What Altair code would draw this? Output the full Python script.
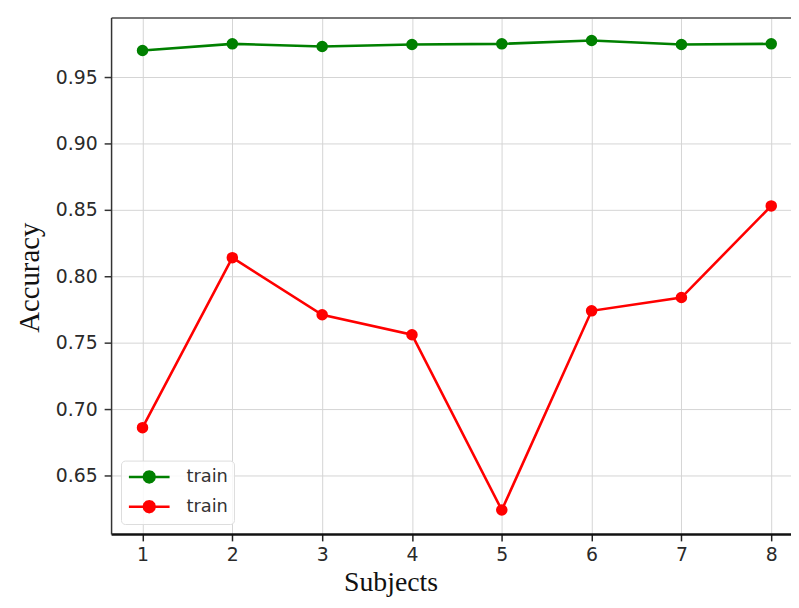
import altair as alt
import pandas as pd

subjects = [1, 2, 3, 4, 5, 6, 7, 8]
train_green = [0.970, 0.975, 0.973, 0.9745, 0.975, 0.9775, 0.9745, 0.975]
train_red = [0.686, 0.814, 0.771, 0.756, 0.624, 0.774, 0.784, 0.853]
series_keys = ["g", "r"]
series_labels = ["train", "train"]
series_colors = ["#008000", "#ff0000"]
y_ticks = [0.65, 0.70, 0.75, 0.80, 0.85, 0.90, 0.95]

rows = []
for s, a in zip(subjects, train_green):
    rows.append({"subject": s, "acc": a, "series": "g"})
for s, a in zip(subjects, train_red):
    rows.append({"subject": s, "acc": a, "series": "r"})
df = pd.DataFrame(rows)

xscale = alt.Scale(domain=[0.65, 8.22], nice=False, zero=False)
yscale = alt.Scale(domain=[0.606, 0.9948], nice=False, zero=False)

yaxis = alt.Axis(
    values=y_ticks, format=".2f", title="Accuracy",
    titleFont="Liberation Serif", titleFontSize=29, titleFontWeight="normal",
    titleColor="#111", titleX=-82, titleY=262, titleAngle=-90,
    titleAlign="center", titleBaseline="middle",
    labelFont="DejaVu Sans", labelFontSize=19, labelColor="#2a2a2a",
    labelPadding=7, tickSize=7, tickColor="#333", tickWidth=1.5,
    domainColor="#333", domainWidth=1.5,
    grid=True, gridColor="#d4d4d4", gridWidth=1,
)

xaxis = alt.Axis(
    values=subjects, format="d", title="Subjects", orient="bottom",
    titleFont="Liberation Serif", titleFontSize=28, titleFontWeight="normal",
    titleColor="#111", titleX=282, titleY=57,
    titleAlign="center", titleBaseline="alphabetic",
    labelFont="DejaVu Sans", labelFontSize=19, labelColor="#2a2a2a",
    labelPadding=5, tickSize=7, tickColor="#222", tickWidth=1.5,
    domainColor="#111", domainWidth=2.5,
    grid=True, gridColor="#d4d4d4", gridWidth=1,
)

top_axis = alt.Axis(
    orient="top", labels=False, ticks=False, grid=False, title=None,
    domainColor="#777", domainWidth=2,
)

marker_path = (
    "M-2.28,0H2.28"
    "M0.615,0L0.533,0.3075L0.3075,0.533L0,0.615L-0.3075,0.533L-0.533,0.3075"
    "L-0.615,0L-0.533,-0.3075L-0.3075,-0.533L0,-0.615L0.3075,-0.533L0.533,-0.3075Z"
)

legend = alt.Legend(
    title=None, orient="none", legendX=10, legendY=447,
    labelExpr="'train'", labelFont="DejaVu Sans", labelFontSize=18,
    labelColor="#333", labelOffset=27,
    symbolType=marker_path, symbolOffset=12,
    symbolSize=324, symbolStrokeWidth=2.5, symbolOpacity=1,
    rowPadding=7, padding=6, cornerRadius=4,
    fillColor="rgba(255,255,255,0.85)", strokeColor="#dddddd",
)

base = alt.Chart(df)

lines = base.mark_line(strokeWidth=2.6).encode(
    x=alt.X("subject:Q", scale=xscale, axis=xaxis),
    y=alt.Y("acc:Q", scale=yscale, axis=yaxis),
    stroke=alt.Stroke("series:N", scale=alt.Scale(domain=series_keys, range=series_colors), legend=legend),
    detail="series:N",
)

points = base.mark_circle(size=135, opacity=1).encode(
    x=alt.X("subject:Q", scale=xscale, axis=None),
    y=alt.Y("acc:Q", scale=yscale, axis=yaxis),
    fill=alt.Fill("series:N", scale=alt.Scale(domain=series_keys, range=series_colors), legend=legend),
)

frame = base.mark_point(opacity=0).encode(
    x=alt.X("subject:Q", scale=xscale, axis=top_axis),
    y=alt.Y("acc:Q", scale=yscale, axis=yaxis),
)

chart = alt.layer(lines, points, frame).resolve_axis(x="independent").properties(
    width=686, height=521,
    padding={"left": 104, "top": 7, "right": 0, "bottom": 64},
    autosize=alt.AutoSizeParams(type="none"),
    background="white",
).configure_view(strokeWidth=0)

chart.save("out.html", embed_options={"renderer": "svg", "actions": False})
